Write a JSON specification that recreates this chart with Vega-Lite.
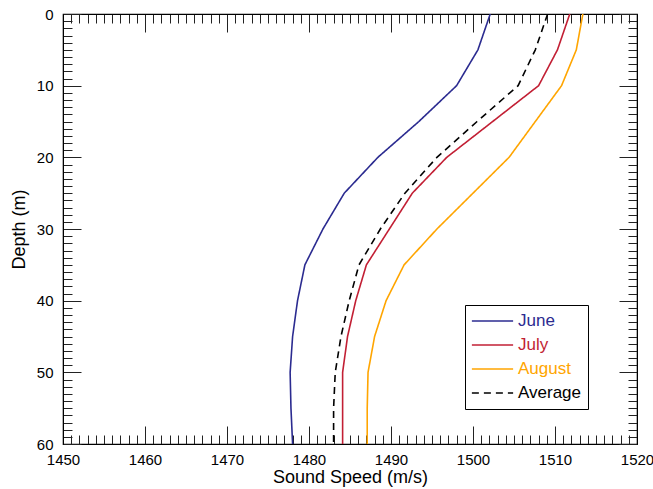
{
  "$schema": "https://vega.github.io/schema/vega-lite/v6.json",
  "width": 574,
  "height": 430,
  "autosize": "none",
  "padding": {"left": 63, "top": 14, "right": 16, "bottom": 45},
  "background": "white",
  "config": {
    "view": {"stroke": "black", "strokeWidth": 1.2},
    "font": "Liberation Sans",
    "axis": {
      "domainColor": "black",
      "tickColor": "#222222",
      "tickWidth": 1,
      "labelColor": "black",
      "labelFontSize": 15,
      "titleFontSize": 18,
      "titleFontWeight": "normal",
      "titleColor": "black",
      "labelOverlap": false,
      "labelFlush": false,
      "grid": false,
      "format": "d"
    }
  },
  "data": {
    "values": [
      {"month": "June", "depth": 0, "speed": 1502.1},
      {"month": "June", "depth": 5, "speed": 1500.6},
      {"month": "June", "depth": 10, "speed": 1498.0},
      {"month": "June", "depth": 15, "speed": 1493.4},
      {"month": "June", "depth": 20, "speed": 1488.4},
      {"month": "June", "depth": 25, "speed": 1484.3},
      {"month": "June", "depth": 30, "speed": 1481.7},
      {"month": "June", "depth": 35, "speed": 1479.5},
      {"month": "June", "depth": 40, "speed": 1478.6},
      {"month": "June", "depth": 45, "speed": 1478.0},
      {"month": "June", "depth": 50, "speed": 1477.7},
      {"month": "June", "depth": 55, "speed": 1477.8},
      {"month": "June", "depth": 60, "speed": 1478.0},
      {"month": "July", "depth": 0, "speed": 1511.8},
      {"month": "July", "depth": 5, "speed": 1510.3},
      {"month": "July", "depth": 10, "speed": 1508.0},
      {"month": "July", "depth": 15, "speed": 1502.4},
      {"month": "July", "depth": 20, "speed": 1496.8},
      {"month": "July", "depth": 25, "speed": 1492.6},
      {"month": "July", "depth": 30, "speed": 1489.8},
      {"month": "July", "depth": 35, "speed": 1487.0},
      {"month": "July", "depth": 40, "speed": 1485.7},
      {"month": "July", "depth": 45, "speed": 1484.7},
      {"month": "July", "depth": 50, "speed": 1484.1},
      {"month": "July", "depth": 55, "speed": 1484.1},
      {"month": "July", "depth": 60, "speed": 1484.1},
      {"month": "August", "depth": 0, "speed": 1513.4},
      {"month": "August", "depth": 5, "speed": 1512.6},
      {"month": "August", "depth": 10, "speed": 1510.8},
      {"month": "August", "depth": 15, "speed": 1507.6},
      {"month": "August", "depth": 20, "speed": 1504.4},
      {"month": "August", "depth": 25, "speed": 1500.0},
      {"month": "August", "depth": 30, "speed": 1495.6},
      {"month": "August", "depth": 35, "speed": 1491.6},
      {"month": "August", "depth": 40, "speed": 1489.4},
      {"month": "August", "depth": 45, "speed": 1488.0},
      {"month": "August", "depth": 50, "speed": 1487.2},
      {"month": "August", "depth": 55, "speed": 1487.1},
      {"month": "August", "depth": 60, "speed": 1487.1},
      {"month": "Average", "depth": 0, "speed": 1509.1},
      {"month": "Average", "depth": 5, "speed": 1507.6},
      {"month": "Average", "depth": 10, "speed": 1505.5},
      {"month": "Average", "depth": 15, "speed": 1500.5},
      {"month": "Average", "depth": 20, "speed": 1495.6},
      {"month": "Average", "depth": 25, "speed": 1491.7},
      {"month": "Average", "depth": 30, "speed": 1488.7},
      {"month": "Average", "depth": 35, "speed": 1486.1},
      {"month": "Average", "depth": 40, "speed": 1484.9},
      {"month": "Average", "depth": 45, "speed": 1483.9},
      {"month": "Average", "depth": 50, "speed": 1483.2},
      {"month": "Average", "depth": 55, "speed": 1483.0},
      {"month": "Average", "depth": 60, "speed": 1483.0}
    ]
  },
  "layer": [
    {
      "transform": [{"filter": "datum.month !== 'Average'"}],
      "mark": {"type": "line", "clip": true},
      "encoding": {
        "x": {
          "field": "speed", "type": "quantitative",
          "scale": {"domain": [1450, 1520], "nice": false, "zero": false},
          "axis": {
            "orient": "bottom",
            "title": "Sound Speed (m/s)",
            "values": [1450,1451,1452,1453,1454,1455,1456,1457,1458,1459,1460,1461,1462,1463,1464,1465,1466,1467,1468,1469,1470,1471,1472,1473,1474,1475,1476,1477,1478,1479,1480,1481,1482,1483,1484,1485,1486,1487,1488,1489,1490,1491,1492,1493,1494,1495,1496,1497,1498,1499,1500,1501,1502,1503,1504,1505,1506,1507,1508,1509,1510,1511,1512,1513,1514,1515,1516,1517,1518,1519,1520],
            "labelExpr": "datum.value % 10 === 0 ? datum.label : ''",
            "tickSize": {"expr": "datum.value % 10 === 0 ? -18 : -9"},
            "labelPadding": 26,
            "titlePadding": -8
          }
        },
        "y": {
          "field": "depth", "type": "quantitative",
          "scale": {"domain": [0, 60], "reverse": true, "nice": false, "zero": false},
          "axis": {
            "orient": "left",
            "title": "Depth (m)",
            "values": [0,1,2,3,4,5,6,7,8,9,10,11,12,13,14,15,16,17,18,19,20,21,22,23,24,25,26,27,28,29,30,31,32,33,34,35,36,37,38,39,40,41,42,43,44,45,46,47,48,49,50,51,52,53,54,55,56,57,58,59,60],
            "labelExpr": "datum.value % 10 === 0 ? datum.label : ''",
            "tickSize": {"expr": "datum.value % 10 === 0 ? -18 : -9"},
            "labelPadding": 28,
            "titlePadding": 8
          }
        },
        "color": {
          "field": "month", "type": "nominal",
          "scale": {"domain": ["June", "July", "August", "Average"], "range": ["#2b2b90", "#c21f34", "#ffa500", "#000000"]},
          "legend": {
            "title": null,
            "orient": "none",
            "legendX": 402,
            "legendY": 291,
            "strokeColor": "black",
            "fillColor": "white",
            "padding": 6,
            "symbolType": "stroke",
            "symbolSize": 1700,
            "clipHeight": 20,
            "rowPadding": 4,
            "labelFontSize": 17,
            "labelOffset": 4,
            "labelColor": {"expr": "datum.value === 'June' ? '#2b2b90' : datum.value === 'July' ? '#c21f34' : datum.value === 'August' ? '#ffa500' : 'black'"}
          }
        },
        "strokeDash": {
          "field": "month", "type": "nominal",
          "scale": {"domain": ["June", "July", "August", "Average"], "range": [[1, 0], [1, 0], [1, 0], [7, 5]]}
        },
        "strokeWidth": {
          "field": "month", "type": "nominal",
          "scale": {"domain": ["June", "July", "August", "Average"], "range": [1.6, 1.6, 1.6, 3.2]}
        },
        "order": {"field": "depth", "type": "quantitative"}
      }
    },
    {
      "transform": [{"filter": "datum.month === 'Average'"}],
      "mark": {"type": "line", "clip": true},
      "encoding": {
        "x": {
          "field": "speed", "type": "quantitative",
          "axis": {
            "orient": "top",
            "title": null,
            "values": [1450,1451,1452,1453,1454,1455,1456,1457,1458,1459,1460,1461,1462,1463,1464,1465,1466,1467,1468,1469,1470,1471,1472,1473,1474,1475,1476,1477,1478,1479,1480,1481,1482,1483,1484,1485,1486,1487,1488,1489,1490,1491,1492,1493,1494,1495,1496,1497,1498,1499,1500,1501,1502,1503,1504,1505,1506,1507,1508,1509,1510,1511,1512,1513,1514,1515,1516,1517,1518,1519,1520],
            "labels": false,
            "tickSize": {"expr": "datum.value % 10 === 0 ? -18 : -9"}
          }
        },
        "y": {
          "field": "depth", "type": "quantitative",
          "axis": {
            "orient": "right",
            "title": null,
            "values": [0,1,2,3,4,5,6,7,8,9,10,11,12,13,14,15,16,17,18,19,20,21,22,23,24,25,26,27,28,29,30,31,32,33,34,35,36,37,38,39,40,41,42,43,44,45,46,47,48,49,50,51,52,53,54,55,56,57,58,59,60],
            "labels": false,
            "tickSize": {"expr": "datum.value % 10 === 0 ? -18 : -9"}
          }
        },
        "color": {"field": "month", "type": "nominal"},
        "strokeDash": {"field": "month", "type": "nominal"},
        "strokeWidth": {"field": "month", "type": "nominal"},
        "order": {"field": "depth", "type": "quantitative"}
      }
    }
  ],
  "resolve": {"axis": {"x": "independent", "y": "independent"}}
}
